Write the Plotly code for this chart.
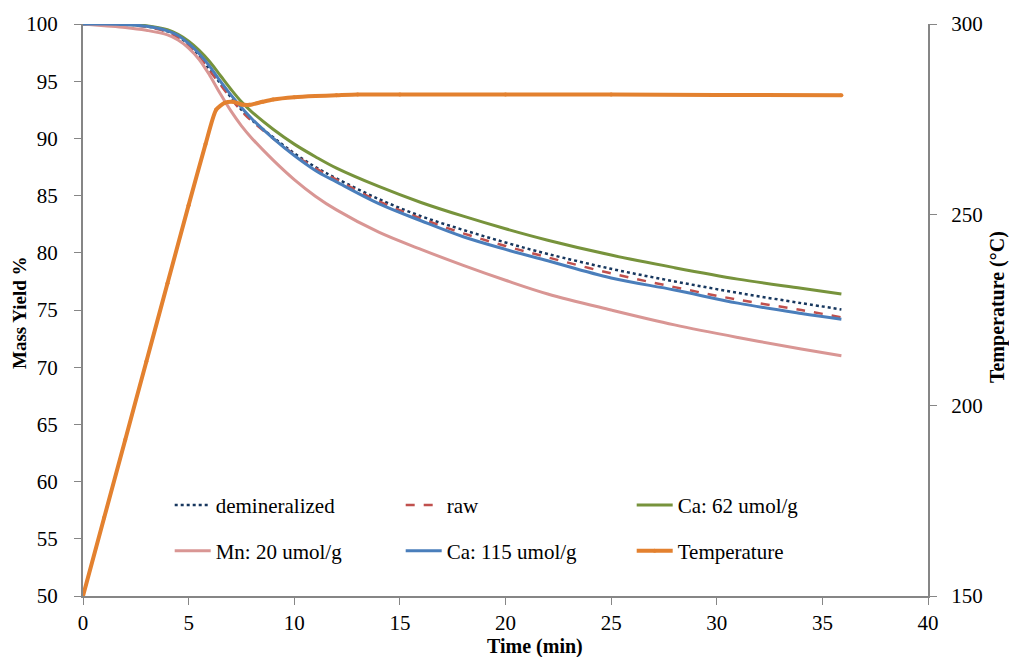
import plotly.graph_objects as go

# ---- data ----
time_mass = [0, 1, 2, 3, 4, 4.5, 5, 5.5, 6, 6.5, 7, 7.5, 8, 9, 10, 11, 12, 14, 16, 18, 20, 22, 25, 28, 31, 34, 35.9]
demineralized = [100, 100, 99.95, 99.8, 99.35, 98.9, 98.2, 97.2, 96.0, 94.8, 93.6, 92.5, 91.6, 90.1, 88.7, 87.5, 86.5, 84.7, 83.2, 82.0, 80.9, 79.9, 78.6, 77.5, 76.5, 75.6, 75.05]
raw = [100, 100, 99.93, 99.75, 99.3, 98.8, 98.1, 97.1, 95.9, 94.7, 93.5, 92.4, 91.5, 90.0, 88.6, 87.4, 86.4, 84.5, 83.0, 81.7, 80.6, 79.6, 78.2, 77.0, 75.9, 75.0, 74.35]
ca62 = [100, 100, 99.97, 99.85, 99.5, 99.1, 98.5, 97.7, 96.7, 95.5, 94.3, 93.2, 92.3, 90.8, 89.5, 88.4, 87.4, 85.8, 84.4, 83.2, 82.1, 81.1, 79.8, 78.7, 77.7, 76.9, 76.4]
mn20 = [100, 99.85, 99.7, 99.45, 99.05, 98.6, 97.9, 96.9, 95.5, 93.9, 92.4, 91.1, 90.0, 88.1, 86.4, 84.95, 83.75, 81.8, 80.3, 78.9, 77.6, 76.4, 75.0, 73.7, 72.6, 71.6, 71.0]
ca115 = [100, 100, 99.95, 99.8, 99.4, 99.0, 98.3, 97.4, 96.3, 95.0, 93.8, 92.7, 91.7, 90.0, 88.5, 87.2, 86.2, 84.3, 82.8, 81.4, 80.3, 79.3, 77.8, 76.75, 75.6, 74.7, 74.2]

time_temp = [0, 1, 2, 3, 4, 5, 5.8, 6.3, 6.7, 7.1, 7.5, 7.9, 8.5, 9, 10, 11, 12, 13, 15, 20, 25, 30, 35.9]
temperature = [150, 170.5, 191, 211.5, 232, 252.5, 268.5, 277.5, 279.3, 279.6, 278.9, 278.8, 279.6, 280.2, 280.8, 281.1, 281.3, 281.5, 281.5, 281.5, 281.5, 281.4, 281.3]

FONT = "Liberation Serif, Times New Roman, serif"
AX = "#868686"

fig = go.Figure()
fig.add_trace(go.Scatter(x=time_mass, y=demineralized, name="demineralized", mode="lines",
                         line=dict(color="#17375E", width=2.5, dash="dot", shape="spline"), legend="legend"))
fig.add_trace(go.Scatter(x=time_mass, y=raw, name="raw", mode="lines",
                         line=dict(color="#C0504D", width=2.5, dash="dash", shape="spline"), legend="legend"))
fig.add_trace(go.Scatter(x=time_mass, y=ca62, name="Ca: 62 umol/g", mode="lines",
                         line=dict(color="#77933C", width=3, shape="spline"), legend="legend"))
fig.add_trace(go.Scatter(x=time_mass, y=mn20, name="Mn: 20 umol/g", mode="lines",
                         line=dict(color="#D99694", width=3, shape="spline"), legend="legend2"))
fig.add_trace(go.Scatter(x=time_mass, y=ca115, name="Ca: 115 umol/g", mode="lines",
                         line=dict(color="#4A7EBB", width=3, shape="spline"), legend="legend2"))
fig.add_trace(go.Scatter(x=time_temp, y=temperature, name="Temperature", mode="lines+markers", yaxis="y2",
                         line=dict(color="#E3812F", width=4, shape="spline", smoothing=0.6),
                         marker=dict(color="#E3812F", size=4), legend="legend2"))

legend_common = dict(orientation="h", entrywidth=180, entrywidthmode="pixels",
                     font=dict(family=FONT, size=21, color="black"), bgcolor="rgba(0,0,0,0)",
                     itemwidth=36, xanchor="left", yanchor="middle", tracegroupgap=0)

axis_common = dict(showgrid=False, zeroline=False, showline=True, linecolor=AX, linewidth=2,
                   ticks="outside", tickcolor=AX, ticklen=7, tickwidth=1,
                   tickfont=dict(family=FONT, size=21, color="black"))

fig.update_layout(
    width=1009, height=657,
    margin=dict(l=83, r=81, t=22, b=61),
    plot_bgcolor="white", paper_bgcolor="white",
    font=dict(family=FONT, size=21, color="black"),
    xaxis=dict(range=[0, 40], tickvals=[0, 5, 10, 15, 20, 25, 30, 35, 40], **axis_common),
    yaxis=dict(range=[50, 100], tickvals=[50, 55, 60, 65, 70, 75, 80, 85, 90, 95, 100],
               ticklabelstandoff=12, **axis_common),
    yaxis2=dict(range=[150, 300], tickvals=[150, 200, 250, 300], overlaying="y", side="right",
                ticklabelstandoff=10, **axis_common),
    legend=dict(x=0.1026, y=(596 - 505) / 574, **legend_common),
    legend2=dict(x=0.1026, y=(596 - 551) / 574, **legend_common),
    showlegend=True,
    annotations=[
        dict(text="<b>Time (min)</b>", xref="paper", yref="paper", x=(535 - 83) / 845, y=(596 - 647) / 574,
             showarrow=False, xanchor="center", yanchor="middle", font=dict(family=FONT, size=20)),
        dict(text="<b>Mass Yield %</b>", xref="paper", yref="paper", x=(20 - 83) / 845, y=(596 - 312) / 574,
             showarrow=False, xanchor="center", yanchor="middle", textangle=-90, font=dict(family=FONT, size=19)),
        dict(text="<b>Temperature (°C)</b>", xref="paper", yref="paper", x=(997 - 83) / 845, y=(596 - 306) / 574,
             showarrow=False, xanchor="center", yanchor="middle", textangle=-90, font=dict(family=FONT, size=20)),
    ],
)

fig.write_html("out.html")
